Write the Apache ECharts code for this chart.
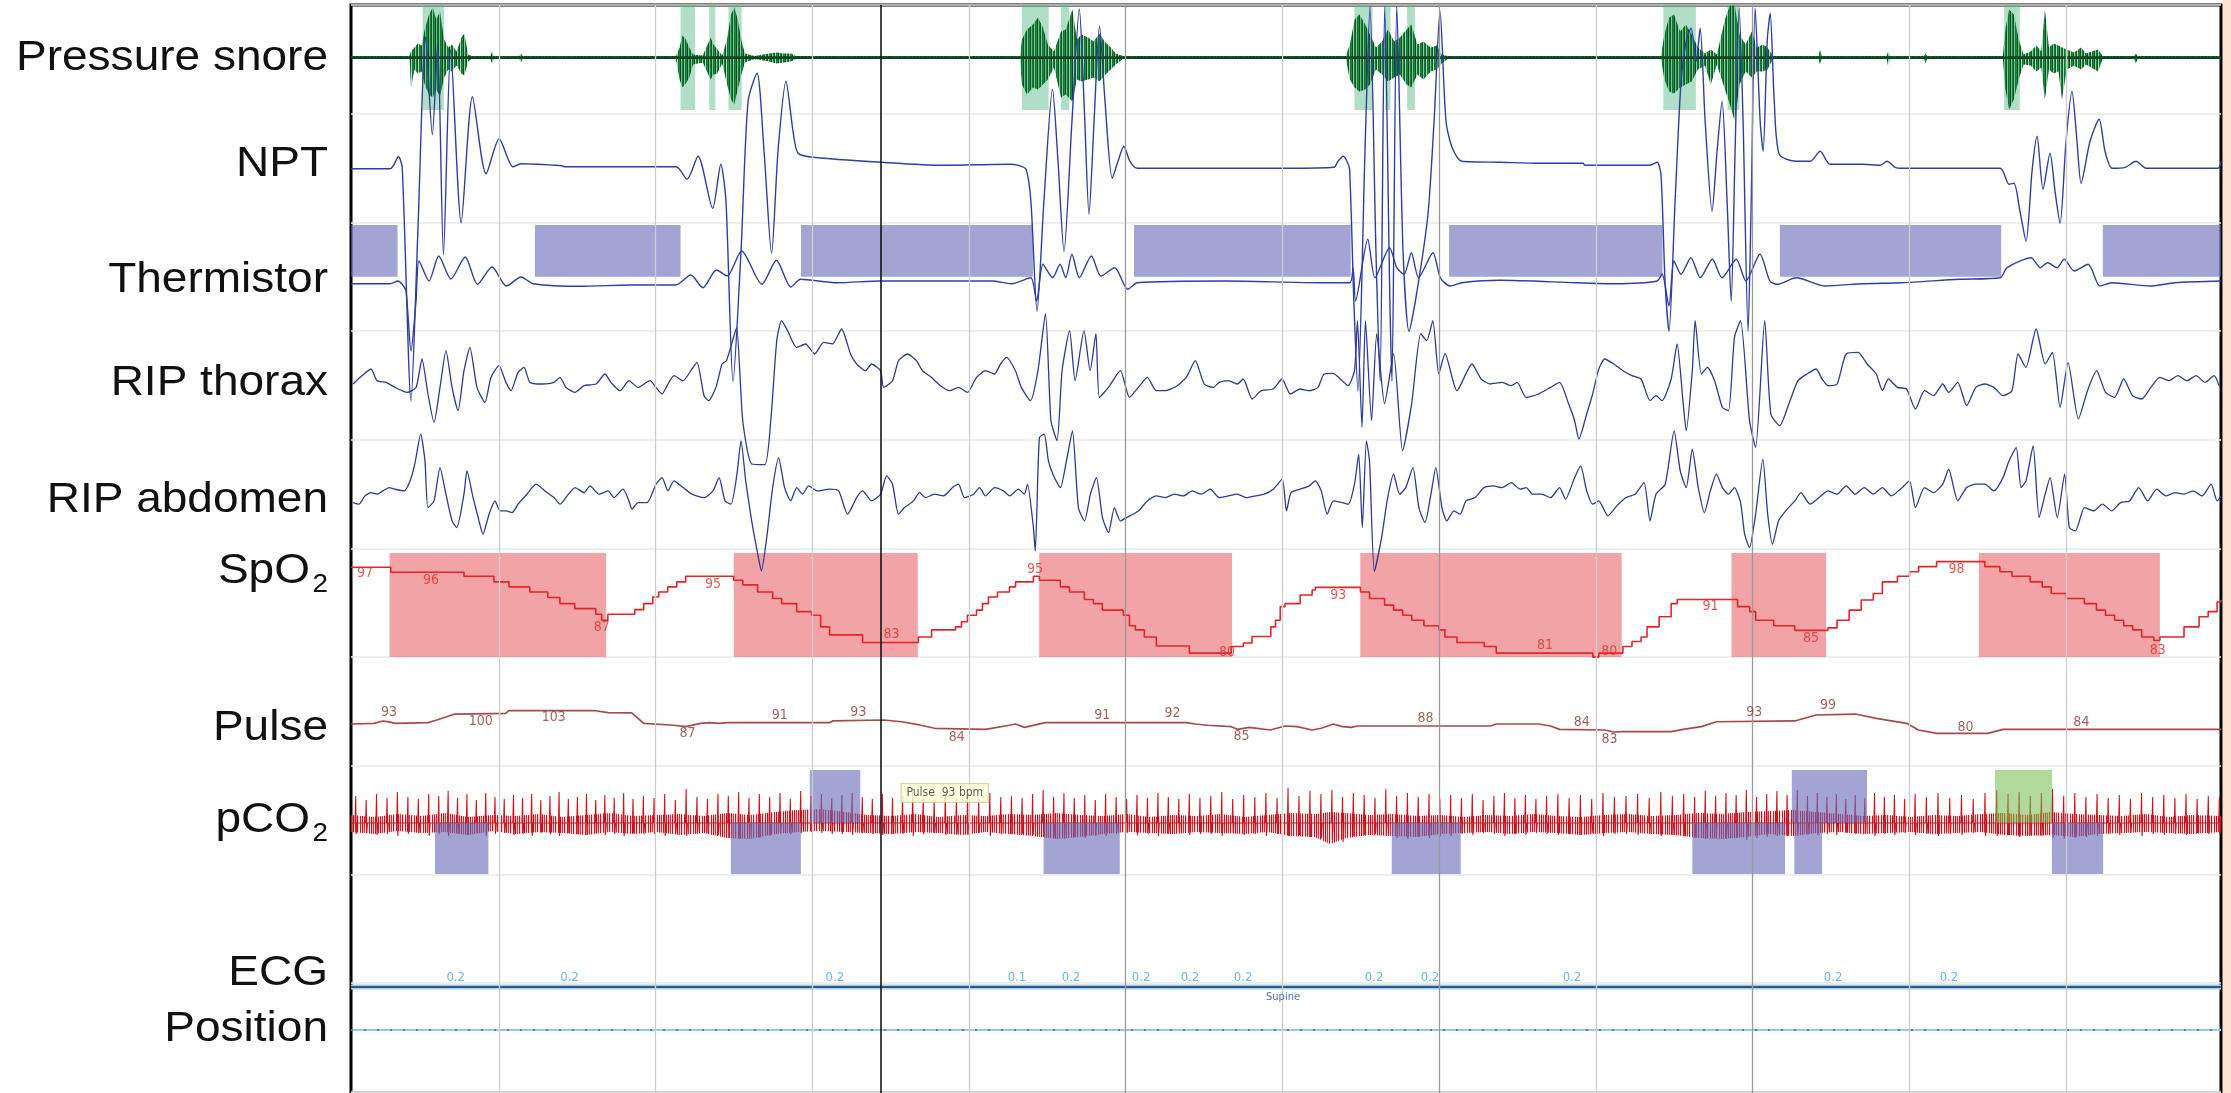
<!DOCTYPE html>
<html><head><meta charset="utf-8">
<script src="https://cdn.jsdelivr.net/npm/echarts@6/dist/echarts.min.js"></script>
<style>html,body{margin:0;padding:0;background:#fff;overflow:hidden}#c{width:2231px;height:1093px}</style>
</head><body><div id="c"></div>
<script>
// ---------------- DATA (time in seconds, amplitudes in arbitrary channel units) ----------------
const T_MAX = 119.34;
const gridTimes = [9.44, 19.44, 29.44, 39.44, 49.44, 59.44, 69.44, 79.44, 89.44, 99.44, 109.44];
const majorGridTimes = [49.44, 69.44, 89.44];
const cursorTime = 33.82;

const channelLabels = ['Pressure snore', 'NPT', 'Thermistor', 'RIP thorax', 'RIP abdomen', 'SpO', 'Pulse', 'pCO', 'ECG', 'Position'];

// snore envelope [t, upper, lower]
const snoreEnv = [[0,3.5,0.5],[3.7,3.5,0.5],[3.74,4,0],[3.83,8,-28],[4.05,12,-10],[4.26,16,-14],[4.51,14,-12],[4.7,30,-25],[4.98,45,-35],[5.22,52,-38],[5.44,40,-30],[5.68,48,-37],[5.94,20,-18],[6.21,12,-10],[6.43,15,-12],[6.74,8,-6],[7.05,22,-14],[7.23,26,-16],[7.48,5,-2],[7.7,3.5,0.5],[8.9,3.5,0.5],[9.0,8,-4],[9.1,3.5,0.5],[10.75,3.5,0.5],[10.85,6,-3],[10.95,3.5,0.5],
[20.74,3.5,0.5],[20.97,12,-20],[21.15,24,-28],[21.37,20,-24],[21.59,12,-18],[21.83,5,-5],[22.45,4,-3],[22.95,22,-20],[23.13,15,-15],[23.38,10,-14],[23.69,4,-4],[24.0,20,-25],[24.25,45,-40],[24.46,52,-45],[24.68,40,-30],[24.93,18,-14],[25.14,6,-3],[25.75,3.5,0.5],[26.68,6,-2],[27.15,7,-4],[27.6,6,-3],[28.08,6,-2],[28.38,3.5,0.5],
[42.69,3.5,0.5],[42.82,20,-25],[43.14,30,-35],[43.52,35,-28],[43.84,42,-30],[44.16,32,-25],[44.47,15,-20],[44.86,8,-8],[45.31,28,-38],[45.61,30,-35],[46.04,50,-42],[46.32,20,-20],[46.63,25,-22],[47.03,22,-20],[47.4,18,-18],[47.77,26,-22],[48.09,18,-16],[48.49,12,-10],[48.8,6,-5],[49.27,3.5,0.5],
[63.49,3.5,0.5],[63.74,15,-20],[64.05,40,-28],[64.35,45,-32],[64.73,35,-30],[65.03,25,-25],[65.41,12,-10],[65.8,18,-15],[66.18,30,-22],[66.58,18,-18],[66.94,22,-15],[67.36,30,-25],[67.66,35,-28],[68.06,15,-15],[68.44,18,-20],[68.9,12,-12],[69.3,14,-10],[69.61,5,-4],[69.98,3.5,0.5],
[83.6,3.5,0.5],[83.82,25,-20],[84.12,42,-32],[84.43,45,-34],[84.82,28,-28],[85.19,35,-25],[85.56,25,-22],[85.96,12,-10],[86.41,6,-6],[86.78,10,-25],[87.17,5,-5],[87.68,40,-30],[88.0,54,-45],[88.31,54,-62],[88.61,25,-25],[89.0,15,-12],[89.4,28,-18],[89.72,12,-12],[90.08,15,-12],[90.39,12,-10],[90.75,3.5,0.5],[93.65,3.5,0.5],[93.75,10,-5],[93.85,3.5,0.5],[98.0,3.5,0.5],[98.09,8,-6],[98.2,3.5,0.5],[100.4,3.5,0.5],[100.48,6,-4],[100.58,3.5,0.5],
[105.42,3.5,0.5],[105.58,30,-30],[105.82,50,-50],[106.12,45,-40],[106.43,20,-20],[106.74,5,-5],[107.2,8,-6],[107.56,14,-12],[107.87,8,-8],[108.1,50,-40],[108.36,12,-10],[108.66,16,-14],[108.97,14,-12],[109.19,12,-40],[109.5,10,-10],[109.96,7,-6],[110.41,12,-10],[110.72,6,-5],[111.49,10,-12],[111.79,3.5,0.5],[113.8,3.5,0.5],[113.91,6,-4],[114.0,3.5,0.5],[119.34,3.5,0.5]];

const nptTrace = [[0,0],[2.5,0],[3.03,12],[3.27,1],[3.83,-232],[4.26,-66],[4.76,132],[5.19,34],[5.53,124],[5.9,-86],[6.36,119],[7.03,-54],[7.75,72],[8.62,-5],[9.46,30],[10.33,2],[10.85,5],[13.49,3],[13.64,2],[20.75,2],
[21.44,-10.5],[22.15,12.5],[23.08,-39.5],[23.6,4.5],[23.93,-32.5],[24.38,-212.5],[24.89,-82.5],[25.34,67.5],[25.91,95.5],[26.36,17.5],[26.84,-84.5],[27.25,17.5],[27.76,87.5],[28.21,37.5],[28.53,15.5],[29.49,11.5],[33.89,6.5],[37.8,3.5],[42.0,4.5],[42.6,3.5],[43.08,-0.5],
[43.39,-32.5],[43.78,-142.5],[44.22,-32.5],[44.77,79.5],[45.12,7.5],[45.5,-82.5],[46.01,47.5],[46.48,159.5],[46.78,67.5],[47.1,-45.5],[47.42,47.5],[47.77,142.5],[48.12,67.5],[48.58,-9.5],[48.95,7.5],[49.32,22.5],[49.71,7.5],[50.19,0.5],[59.8,0.5],[62.73,1.5],[62.99,7.5],[63.33,12.5],[63.56,7.5],[63.73,-0.5],
[64.0,-132.5],[64.26,-222.5],[64.71,17.5],[65.03,162.5],[65.41,-82.5],[65.67,-212.5],[65.97,162.5],[66.3,-132.5],[66.43,-212.5],[66.74,162.5],[67.14,-82.5],[67.52,-162.5],[68.03,-122.5],[68.73,-45.5],[69.12,47.5],[69.5,157.5],[69.88,47.5],[70.29,20.5],[70.9,7.5],[73.32,6.5],[75.88,5.5],
[78.63,5.5],[78.75,3.5],[82.9,3.5],[83.35,6.5],[83.6,-5.5],[83.86,-112.5],[84.11,-162.5],[84.5,-32.5],[84.88,87.5],[85.2,127.5],[85.52,140.5],[85.84,107.5],[86.1,140.5],[86.42,47.5],[86.86,-42.5],[87.18,17.5],[87.5,67.5],[87.82,-32.5],[88.08,-132.5],[88.33,17.5],[88.59,160.5],[88.84,47.5],[89.16,-162.5],[89.36,-32.5],[89.61,160.5],[89.93,47.5],[90.12,17.5],[90.38,127.5],[90.57,155.5],[90.83,67.5],[91.15,14.5],[92.23,7.5],[93.12,7.5],[93.76,17.5],[94.39,4.5],[96.5,4.5],[97.58,3.5],[98.03,7.5],[98.54,1.5],[98.92,0.5],[105.24,0.5],[105.81,-15.5],[106.13,-14.5],[106.51,-42.5],[106.9,-72.5],[107.28,-2.5],[107.6,32.5],[107.98,-20.5],[108.43,15.5],[108.75,-22.5],[109.07,-54.5],[109.45,27.5],[109.83,77.5],[110.15,27.5],[110.41,-14.5],[110.98,27.5],[111.56,49.5],[111.94,17.5],[112.39,0.5],[113.22,1.5],[113.92,7.5],[114.56,0.5],[119.15,0.5],[119.34,7.5]];

const thermTrace = [[0,-5.7],[2.49,-5.7],[3.0,-3],[3.25,-6],[3.51,-13],[3.83,-73],[4.15,-23],[4.34,17],[4.98,-3],[5.6,22],[6.37,-1],[7.29,21],[8.07,-6.3],[9.0,11],[9.92,-8],[10.85,1],[11.62,-5.7],[14.72,-8.3],[17.81,-7],[20.74,-7],[21.68,3],[22.46,-9.7],[23.32,8],[24.0,2],[24.93,27],[26.22,-6.3],[27.15,17.7],[28.07,-9],[28.69,-1.3],[31.02,-4.7],[33.8,-3],[40.91,-3],[42.15,-5.7],[43.38,0.3],[43.75,-23],[44.16,13.7],[44.78,0.3],[45.25,13.7],[45.61,0.3],[46.01,23.7],[46.48,0.3],[47.25,22],[47.86,2],[48.74,10.3],[49.57,-11.3],[50.19,-4.7],[55.76,-3],[61.94,-4.7],[63.74,-4.7],[63.95,10.3],[64.11,-23],[64.89,38.7],[65.35,0.3],[66.28,30.3],[66.74,10.3],[67.2,3.7],[67.67,25.3],[68.13,0.3],[69.05,25.3],[69.52,0.3],[70.14,-8],[70.9,-4.7],[73.33,-2.3],[78.17,-4.7],[80.61,-5.7],[83.35,-3],[83.67,4],[84.11,-28],[84.43,17],[84.88,3.7],[85.51,20.3],[86.11,0.3],[86.88,18.7],[87.49,0.3],[88.41,18.7],[89.02,-3],[89.92,23.7],[90.55,-3],[91.01,-6.3],[92.23,0.3],[94.08,-8],[96.51,-5.7],[98.96,-4.7],[102.63,-1.3],[105.24,0.3],[105.69,10.3],[107.22,20.3],[107.8,10.3],[108.28,15.3],[108.88,10.3],[109.33,18.7],[109.97,7],[110.86,13.7],[111.62,-8],[112.39,-4.7],[114.85,-8],[116.38,-4.7],[119.34,-3]];

const thoraxTrace = [[0.13,3.2],[0.7,11.5],[1.28,18.2],[1.66,6.5],[2.23,4.8],[2.81,-0.2],[3.57,-5.2],[4.15,-0.2],[4.53,28.2],[4.91,-6.8],[5.3,-35.2],[5.68,-0.2],[6.06,36.5],[6.45,-0.2],[6.83,-23.5],[7.21,16.5],[7.59,39.8],[8.04,-0.2],[8.55,-15.2],[8.93,9.8],[9.44,21.5],[9.89,4.8],[10.21,-3.5],[10.66,14.8],[11.04,19.8],[11.42,4.8],[12.19,3.2],[12.95,4.8],[13.34,9.8],[13.72,-0.2],[14.29,-5.2],[14.87,1.5],[15.64,3.2],[16.21,13.2],[16.59,4.8],[17.17,-3.5],[17.74,6.5],[18.32,-0.2],[19.08,6.5],[19.46,-0.2],[19.85,-6.8],[20.23,3.2],[20.61,11.5],[21.19,6.5],[21.76,18.2],[22.08,24.8],[22.53,-8.5],[22.82,-13.5],[23.29,-0.2],[23.68,23.2],[23.96,26.5],[24.35,46.5],[24.61,59.8],[25.0,-33.5],[25.57,-76.8],[26.41,-77.5],[26.79,-33.5],[27.17,46.5],[27.48,66.5],[27.86,56.5],[28.44,39.8],[29.01,43.2],[29.59,33.2],[30.16,44.8],[30.73,43.2],[31.31,58.2],[31.88,33.2],[32.27,23.2],[32.84,16.5],[33.22,23.2],[33.8,16.5],[33.99,-0.2],[34.56,6.5],[34.94,26.5],[35.51,33.2],[36.09,26.5],[36.47,16.5],[37.05,9.8],[37.62,1.5],[38.19,-3.5],[38.77,-0.2],[39.34,-5.2],[39.92,9.8],[40.49,16.5],[41.07,13.2],[41.45,23.2],[41.83,29.8],[42.4,16.5],[42.78,-0.2],[43.36,-13.5],[43.84,16.5],[44.32,73.5],[44.67,-33.5],[45.06,-53.5],[45.38,16.5],[45.86,56.5],[46.21,6.5],[46.78,56.5],[47.17,16.5],[47.54,53.5],[47.76,-10.2],[48.34,-0.2],[49.1,16.5],[49.68,-10.2],[50.25,-0.2],[50.82,9.8],[51.39,-3.5],[51.97,-3.5],[52.73,1.5],[53.31,9.8],[53.88,26.5],[54.45,3.2],[55.03,-0.2],[55.41,4.8],[55.99,6.5],[56.56,3.2],[56.94,8.2],[57.51,-11.8],[58.09,-3.5],[58.85,-1.8],[59.42,8.2],[59.95,-6.8],[60.56,-1.8],[61.14,-3.5],[61.71,-0.2],[62.1,13.2],[62.67,13.8],[63.25,6.5],[63.63,1.5],[64.04,16.5],[64.23,66.5],[64.52,-40.2],[64.74,66.5],[65.13,-33.5],[65.46,53.5],[65.96,-16.5],[66.54,33.5],[67.11,-63.5],[67.69,-16.5],[68.27,53.5],[68.65,46.5],[69.04,66.5],[69.42,13.5],[69.82,33.5],[70.58,-3.5],[71.54,23.2],[72.12,8.2],[72.69,3.2],[73.47,4.8],[74.04,1.5],[74.43,4.8],[74.99,-10.2],[75.78,-6.8],[76.55,-0.2],[77.13,4.8],[77.71,-16.8],[78.09,-33.5],[78.36,-51.8],[78.86,-26.8],[79.24,-6.8],[79.63,18.2],[80.01,28.2],[80.59,23.2],[81.17,16.5],[81.75,11.5],[82.33,8.2],[82.9,-13.5],[83.28,-8.5],[83.67,-13.5],[84.25,8.2],[84.63,43.2],[85.02,-16.8],[85.21,-43.5],[85.6,16.5],[85.78,66.5],[86.18,13.2],[86.57,19.8],[87.02,6.5],[87.52,-20.2],[87.91,-23.5],[88.29,49.8],[88.68,66.5],[89.25,-33.5],[89.64,-60.2],[90.22,66.5],[90.61,-26.8],[91.18,-38.5],[91.76,-16.8],[92.34,6.5],[92.92,13.2],[93.5,18.2],[93.88,8.2],[94.26,1.5],[94.84,3.2],[95.41,33.2],[96.18,34.8],[96.76,23.2],[97.34,13.2],[97.73,-3.5],[98.11,8.2],[98.69,-0.2],[99.27,-1.8],[99.84,-21.8],[100.42,-3.5],[101.0,-8.5],[101.58,3.2],[101.96,-5.2],[102.54,4.8],[103.11,-18.5],[103.69,-0.2],[104.27,3.2],[104.85,-0.2],[105.43,-8.5],[106.0,-3.5],[106.39,33.2],[106.89,19.8],[107.54,58.2],[108.12,23.2],[108.58,34.8],[109.07,-20.2],[109.58,24.8],[110.24,-31.8],[110.82,-3.5],[111.4,16.5],[111.97,-5.2],[112.55,-10.2],[113.13,8.2],[113.7,-8.5],[114.28,-11.8],[114.86,-0.2],[115.44,9.8],[116.01,6.5],[116.59,11.5],[117.17,6.5],[117.75,11.5],[118.32,4.8],[118.9,11.5],[119.22,1.5]];

const abdomenTrace = [[0.13,-6.2],[0.51,-7.8],[0.89,0.5],[1.28,3.8],[1.66,2.2],[2.04,5.5],[2.43,8.8],[2.81,7.2],[3.38,5.5],[3.77,15.5],[4.07,32.2],[4.45,62.2],[4.72,35.5],[4.91,-11.2],[5.3,-4.5],[5.68,28.8],[6.06,2.2],[6.45,-24.5],[6.75,-31.2],[7.21,2.2],[7.4,25.5],[7.79,-1.2],[8.17,-24.5],[8.42,-37.8],[8.81,-17.8],[9.19,-4.5],[9.51,-14.5],[9.89,-14.5],[10.28,-16.2],[10.66,-7.8],[11.23,2.2],[11.81,12.2],[12.38,5.5],[12.96,-1.2],[13.34,-7.8],[13.79,0.5],[14.3,8.8],[14.87,3.8],[15.25,10.5],[15.83,2.2],[16.4,5.5],[16.78,-1.2],[17.36,7.2],[17.74,-4.5],[17.93,-12.8],[18.32,-6.2],[18.89,-6.2],[19.47,12.2],[19.85,18.8],[20.23,5.5],[20.61,15.5],[21.19,8.8],[21.76,2.2],[22.53,-1.2],[23.1,5.5],[23.49,18.8],[23.87,-4.5],[24.25,-7.8],[24.63,22.2],[24.89,55.5],[25.19,15.5],[25.57,-24.5],[25.96,-57.8],[26.19,-74.5],[26.53,-41.2],[26.91,8.8],[27.29,38.8],[27.67,8.8],[28.06,-4.5],[28.44,8.8],[28.82,2.2],[29.2,10.5],[29.78,5.5],[30.54,7.2],[31.12,5.5],[31.69,-17.8],[32.27,-1.2],[32.65,5.5],[33.22,-4.5],[33.8,2.2],[34.18,20.5],[34.56,12.2],[34.94,-17.8],[35.32,-11.2],[35.9,-4.5],[36.28,3.8],[36.66,-1.2],[37.24,2.2],[37.81,0.5],[38.39,8.8],[38.77,12.2],[39.15,-1.2],[39.73,2.2],[40.11,8.8],[40.49,0.5],[41.07,8.8],[41.64,5.5],[42.03,0.5],[42.59,7.2],[42.98,2.2],[43.17,12.2],[43.55,-31.2],[43.67,-54.5],[43.93,58.8],[44.24,62.2],[44.51,35.5],[44.89,18.8],[45.27,8.8],[45.66,35.5],[46.04,65.5],[46.42,-11.2],[46.81,-24.5],[47.19,2.2],[47.57,18.8],[47.96,-21.2],[48.34,-36.2],[48.72,-11.2],[49.1,-24.5],[49.49,-21.2],[50.25,-14.5],[50.82,-4.5],[51.39,0.5],[51.97,-1.2],[52.54,2.2],[53.12,0.5],[53.69,5.5],[54.27,2.2],[54.84,7.2],[55.41,-1.2],[55.99,0.5],[56.56,2.2],[57.13,-1.2],[57.71,0.5],[58.28,2.2],[58.86,7.2],[59.43,17.2],[59.7,-14.5],[59.99,3.8],[60.57,7.2],[61.15,10.5],[61.54,15.5],[61.92,5.5],[62.3,-17.8],[62.69,-4.5],[63.27,-6.2],[63.65,-7.8],[64.04,12.2],[64.31,42.2],[64.54,-31.2],[64.8,55.5],[65.0,35.5],[65.31,-75],[65.77,-41.2],[66.16,-1.2],[66.54,22.2],[66.92,2.2],[67.31,8.8],[67.77,28.8],[68.15,-11.2],[68.54,-26.2],[68.92,2.2],[69.23,28.8],[69.62,-11.2],[69.93,-24.5],[70.39,-14.5],[70.78,-17.8],[71.16,-4.5],[71.73,-1.2],[72.31,8.8],[72.89,10.5],[73.47,8.8],[74.04,13.8],[74.62,7.2],[75.01,8.8],[75.4,2.2],[75.97,2.2],[76.55,-1.2],[77.13,8.8],[77.51,-2.8],[78.09,18.8],[78.47,30.5],[78.86,5.5],[79.24,-7.8],[79.63,-4.5],[80.21,-19.5],[80.78,-9.5],[81.36,-1.2],[81.94,2.2],[82.52,13.8],[82.9,-24.5],[83.28,2.2],[83.87,12.2],[84.44,65.5],[84.83,25.5],[85.21,8.8],[85.6,47.2],[85.98,8.8],[86.37,-16.2],[86.75,5.5],[87.14,22.2],[87.52,8.8],[87.91,2.2],[88.29,8.8],[88.68,-6.2],[88.94,-37.8],[89.25,-51.2],[89.64,-17.8],[90.1,37.2],[90.41,-17.8],[90.72,-47.8],[91.1,-24.5],[91.56,-14.5],[92.14,-4.5],[92.53,3.8],[93.11,-7.8],[93.68,-1.2],[94.26,5.5],[94.84,2.2],[95.42,10.5],[95.99,2.2],[96.57,8.8],[97.15,2.2],[97.73,8.8],[98.3,0.5],[98.88,7.2],[99.46,15.5],[99.84,-11.2],[100.42,8.8],[101.0,3.8],[101.58,12.2],[101.96,27.2],[102.54,-4.5],[103.11,8.8],[103.69,12.2],[104.27,12.2],[104.85,5.5],[105.43,18.8],[105.81,35.5],[106.27,48.8],[106.58,8.8],[106.89,15.5],[107.35,50.5],[107.73,-21.2],[108.12,2.2],[108.43,18.8],[108.89,-21.2],[109.36,22.2],[109.66,-31.2],[110.05,-34.5],[110.63,-11.2],[111.2,-14.5],[111.78,-7.8],[112.36,-14.5],[112.93,-6.2],[113.51,-4.5],[114.09,8.8],[114.66,-4.5],[115.24,7.2],[115.82,0.5],[116.4,3.8],[116.97,2.2],[117.56,5.5],[118.13,0.5],[118.71,12.2],[119.09,-4.5],[119.34,0]];

// SpO2 (%) — value holds from t until next point
const spo2Trace = [[0,97],[2.54,96],[7.21,95.2],[9.12,94.1],[10.08,93.1],[11.41,92.1],[12.56,91],[13.33,89.8],[14.28,88.8],[15.62,87.7],[16.0,86.5],[16.39,87.7],[18.11,88.6],[18.68,89.8],[19.26,91.1],[19.64,92.1],[20.21,93.1],[20.79,94.1],[21.36,95.2],[24.42,94.4],[25.0,93.5],[25.95,92.1],[26.91,90.8],[27.48,89.8],[28.44,88.2],[29.4,87.5],[29.97,85.2],[30.54,83.6],[32.65,82.1],[36.21,83.2],[37.05,84.6],[38.58,85.2],[38.96,86.2],[39.34,87.5],[39.92,88.5],[40.3,89.8],[40.68,91.1],[41.26,92.1],[42.02,93.1],[42.41,94.1],[43.55,95.2],[43.93,94.4],[45.27,93.1],[45.85,92.1],[46.8,90.6],[47.38,89.8],[47.95,88.5],[49.29,87.5],[49.68,85.4],[50.06,84.6],[50.63,83.2],[51.4,81.4],[53.5,80.0],[56.18,81.3],[56.95,82.0],[57.5,83.3],[58.7,85.2],[59.0,86.5],[59.3,89.2],[59.61,89.8],[60.57,91.5],[61.34,92.5],[61.54,93.0],[64.42,92.1],[65.0,90.8],[65.96,89.5],[66.54,88.5],[67.12,87.5],[67.7,86.5],[68.47,85.4],[69.43,84.6],[69.81,83.2],[70.58,82.1],[72.32,81.3],[73.09,80.0],[79.25,79.2],[79.63,80.0],[81.17,81.3],[81.75,82.3],[82.33,83.2],[82.71,85.2],[83.48,87.2],[84.25,89.8],[84.64,90.6],[88.49,89.2],[89.26,88.2],[89.64,86.5],[90.8,85.4],[92.14,84.5],[94.26,85],[94.84,86.5],[95.61,88.5],[96.38,90.5],[97.15,91.8],[97.73,94.1],[98.69,95.2],[99.46,96.1],[100.04,97.1],[101.19,98.1],[104.27,97.1],[105.23,96.1],[106.0,95.2],[107.16,94.1],[107.93,93.1],[108.51,91.8],[109.47,90.8],[110.62,89.8],[111.39,88.5],[111.97,87.5],[112.55,86.5],[113.13,85.4],[113.7,84.6],[114.28,83.2],[115.05,82.5],[115.44,83.2],[116.98,85.2],[117.94,87.2],[118.52,88.2],[119.09,90.1],[119.34,90.5]];
const spo2Labels = [[0.9,95.8,'97'],[5.1,94.4,'96'],[16.0,85.1,'87'],[23.1,93.6,'95'],[34.5,83.8,'83'],[43.65,96.6,'95'],[55.9,80.1,'80'],[63.0,91.5,'93'],[76.2,81.6,'81'],[80.3,80.4,'80'],[86.76,89.3,'91'],[93.18,82.9,'85'],[102.46,96.6,'98'],[115.3,80.6,'83']];

// Pulse (bpm)
const pulseTrace = [[0,89.3],[1.47,90],[2.04,92.5],[2.42,91.5],[2.81,90],[4.91,90.7],[5.48,93.5],[6.63,99.8],[9.88,100.5],[10.07,103.3],[15.62,103.3],[16.39,101.2],[17.92,101],[18.68,90],[20.6,88],[21.36,86.5],[22.32,90],[22.89,90.7],[23.46,90],[24.04,90.7],[30.54,90.7],[30.74,92.5],[33.99,93.5],[35.13,91.7],[36.28,88.3],[37.24,84.8],[40.49,83.7],[42.02,88],[42.41,89.3],[42.98,85.8],[44.32,90.7],[53.31,90.7],[53.88,89.3],[54.65,88],[56.18,86.5],[56.56,83.7],[57.33,85.8],[58.66,83],[59.62,87.2],[60.38,86.5],[61.34,83],[61.92,84.8],[62.69,89.3],[63.27,86.5],[63.85,85.8],[64.23,87.2],[72.7,87.2],[73.09,89.3],[75.78,89.3],[76.55,87.2],[77.13,83.7],[80.02,83],[80.59,80.9],[81.17,81.2],[84.25,81.2],[85.02,83.7],[86.18,86.5],[87.14,91.7],[92.14,92.5],[93.49,98.8],[95.99,99.8],[97.34,95.3],[99.27,90],[100.04,83],[101.19,79.5],[104.46,79.5],[105.43,83.7],[119.34,83.7]];
const pulseLabels = [[2.42,101.2,'93'],[8.28,92.5,'100'],[12.94,96,'103'],[21.48,79.5,'87'],[27.37,98.8,'91'],[32.38,101.6,'93'],[38.66,75.3,'84'],[47.95,98.8,'91'],[52.43,100.5,'92'],[56.83,76.7,'85'],[68.58,95.3,'88'],[78.55,91.1,'84'],[80.32,73.5,'83'],[89.56,101.6,'93'],[94.26,108.6,'99'],[103.04,85.8,'80'],[110.43,91.1,'84']];

// pCO2 channel trace: beats [t, peak, trough] and background noise envelope [t, upper, lower]
const pco2Beats = [[0.3,28,-10],[0.97,24,-9],[1.63,30,-11],[2.3,26,-10],[2.96,32,-12],[3.63,27,-10],[4.3,25,-9],[4.96,30,-12],[5.6,28,-10],
[6.2,33,-12],[6.8,26,-10],[7.4,30,-11],[8.0,24,-9],[8.6,31,-12],[9.19,27,-10],[9.78,25,-9],[10.37,29,-11],[10.95,26,-10],[11.53,30,-12],[12.11,24,-9],[12.7,28,-10],[13.28,32,-12],[13.87,25,-9],[14.45,27,-10],[15.03,30,-11],[15.62,24,-9],[16.2,29,-11],[16.8,26,-10],[17.4,31,-12],[18.0,25,-9],
[18.66,28,-10],[19.34,26,-10],[20.02,30,-12],[20.7,24,-9],[21.39,35,-12],[22.08,27,-10],[22.75,25,-9],[23.42,30,-11],[24.08,28,-14],[24.74,32,-15],[25.4,26,-13],[26.06,30,-14],[26.72,27,-12],[27.38,31,-10],[28.04,25,-10],[28.7,33,-9],[29.36,28,-8],[30.02,30,-9],[30.68,26,-10],
[31.33,29,-10],[31.98,31,-11],[32.63,27,-9],[33.27,25,-10],[33.91,30,-11],[34.56,26,-10],[35.2,28,-10],[35.85,31,-12],
[36.52,27,-10],[37.22,24,-9],[37.93,30,-11],[38.64,26,-10],[39.35,29,-11],[40.06,25,-9],[40.77,31,-12],[41.47,27,-10],[42.15,28,-10],
[42.83,26,-10],[43.5,30,-11],[44.17,34,-13],[44.84,27,-14],[45.5,31,-15],[46.16,26,-13],[46.83,29,-14],[47.5,24,-12],[48.16,30,-12],[48.83,27,-10],[49.5,25,-9],[50.16,29,-11],[50.83,26,-10],[51.5,31,-12],[52.16,27,-10],[52.83,25,-9],
[53.5,30,-11],[54.18,26,-10],[54.87,28,-10],[55.57,32,-12],[56.27,25,-9],[56.97,29,-11],[57.68,27,-10],[58.39,31,-12],[59.1,26,-10],
[59.8,36,-12],[60.5,28,-11],[61.2,33,-13],[61.9,30,-14],[62.6,34,-16],[63.28,27,-18],[63.97,31,-12],
[64.66,29,-11],[65.35,26,-10],[66.04,35,-12],[66.73,28,-14],[67.42,31,-15],[68.11,27,-13],[68.8,30,-14],[69.49,25,-12],[70.18,29,-12],[70.87,26,-10],[71.56,30,-11],[72.25,24,-9],[72.94,28,-10],
[73.61,31,-12],[74.28,26,-10],[74.95,29,-11],[75.62,25,-9],[76.3,28,-10],
[77.02,30,-11],[77.74,26,-10],[78.46,29,-11],[79.18,25,-9],[79.9,31,-12],[80.63,27,-10],[81.37,28,-10],[82.11,30,-11],[82.85,26,-10],[83.59,32,-12],[84.33,28,-11],
[85.05,30,-12],[85.75,27,-14],[86.43,33,-15],[87.09,28,-14],[87.75,31,-15],[88.4,29,-14],[89.05,34,-16],[89.7,27,-14],[90.35,30,-13],[91.0,33,-12],[91.65,29,-12],[92.3,34,-12],[92.95,28,-11],
[93.58,31,-11],[94.19,27,-10],[94.79,30,-11],[95.39,25,-9],[96.0,29,-10],[96.61,26,-10],[97.23,31,-12],[97.86,27,-10],[98.5,29,-11],[99.15,25,-9],
[99.82,30,-11],[100.54,27,-10],[101.28,31,-12],[102.03,26,-10],[102.78,29,-11],[103.53,25,-9],[104.28,31,-12],[105.03,34,-12],
[105.75,30,-11],[106.46,32,-13],[107.17,28,-11],[107.88,31,-12],[108.59,35,-14],[109.3,28,-15],[110.01,31,-14],[110.72,27,-13],[111.43,30,-12],[112.14,26,-10],[112.85,29,-11],[113.56,25,-9],[114.27,31,-12],[114.98,27,-10],[115.69,29,-11],[116.4,26,-10],[117.11,30,-11],[117.82,25,-9],[118.53,28,-10],[119.24,27,-10]];
const pco2Noise = [[0,9,-8],[1.5,7,-10],[3,10,-7],[4.5,8,-9],[6,11,-8],[7.5,7,-11],[9,9,-7],[10.5,8,-10],[12,10,-8],[13.5,7,-9],[15,9,-11],[16.5,11,-8],[18,8,-10],[19.5,9,-8],[21,10,-11],[22.5,8,-9],[24,11,-14],[25.5,9,-15],[27,12,-10],[28.5,14,-8],[30,15,-7],[31.5,12,-8],[33,9,-9],[34.5,8,-10],[36,10,-8],[37.5,7,-9],[39,9,-11],[40.5,8,-8],[42,10,-10],[43.5,9,-12],[45,11,-15],[46.5,9,-13],[48,8,-10],[49.5,10,-8],[51,7,-9],[52.5,9,-10],[54,8,-8],[55.5,10,-9],[57,7,-10],[58.5,9,-8],[60,11,-12],[61.5,10,-13],[62.5,12,-20],[63.5,11,-14],[65,9,-11],[66.5,10,-12],[68,8,-13],[69.5,9,-10],[71,7,-9],[72.5,9,-8],[74,8,-10],[75.5,10,-8],[77,8,-9],[78.5,7,-11],[80,9,-9],[81.5,10,-8],[83,8,-10],[84.5,9,-11],[86,11,-14],[87.5,10,-15],[89,12,-13],[90.5,13,-10],[92,14,-12],[93.5,12,-9],[95,10,-8],[96.5,8,-10],[98,9,-9],[99.5,7,-8],[101,9,-10],[102.5,8,-9],[104,10,-8],[105.5,11,-11],[107,9,-12],[108.5,12,-11],[110,10,-13],[111.5,9,-10],[113,8,-9],[114.5,10,-8],[116,7,-9],[117.5,9,-10],[119.34,8,-8]];
const pco2Note = [[35.13, 31, 'Pulse  93 bpm']];

// ECG / Position
const ecgTrace = [[0,0],[119.34,0]];
const ecgMarks = [[6.68,'0.2'],[13.95,'0.2'],[30.88,'0.2'],[42.5,'0.1'],[45.95,'0.2'],[50.42,'0.2'],[53.54,'0.2'],[56.93,'0.2'],[65.29,'0.2'],[68.86,'0.2'],[77.92,'0.2'],[94.58,'0.2'],[101.98,'0.2']];
const positionTrace = [[0,0],[119.34,0]];
const positionMarks = [[59.48,'Supine']];

// scored events [start, end] in seconds
const snoreEvents = [[4.57,5.93],[21.03,21.96],[22.86,23.25],[24.09,24.93],[42.82,44.52],[45.31,45.83],[64.04,65.19],[66.0,66.34],[67.4,67.9],[83.75,85.83],[87.84,88.61],[105.5,106.5]];
const flowEvents = [[0,2.97],[11.74,21.03],[28.72,43.52],[49.97,63.8],[70.08,83.7],[91.19,105.31],[111.8,119.34]];
const desatEvents = [[2.46,16.28],[24.43,36.17],[43.92,56.23],[64.41,81.09],[88.1,94.14],[103.89,115.44]];
const pco2LowEvents = [[5.36,8.77],[24.24,28.71],[44.2,49.06],[66.42,70.82],[85.6,91.52],[92.11,93.88],[108.55,111.82]];
const pco2HighEvents = [[29.28,32.5],[91.95,96.75]];
const pco2GreenEvents = [[104.92,108.55]];

// ---------------- LAYOUT / RENDER ----------------
const ROW_H = 109.2, TOP = 5, LEFT = 351, RIGHT = 10;
const chart = echarts.init(document.getElementById('c'), null, {renderer: 'canvas', width: 2231, height: 1093});
const NARROW = "'Liberation Sans Narrow','DejaVu Sans Condensed','Liberation Sans',sans-serif";
const MAIN_FONT = "'Liberation Sans', Arial, Helvetica, sans-serif";
const BLUE = '#2f3f9f';

// hatch textures that mimic a high-frequency oscillating signal inside an envelope
function hatch(colors, w, h) {
  const c = document.createElement('canvas'); c.width = w; c.height = h;
  const ctx = c.getContext('2d');
  for (let x = 0; x < w; x++) { ctx.fillStyle = colors[x % colors.length]; ctx.fillRect(x, 0, 1, h); }
  return c;
}
const snoreTexture = {image: hatch(['#178a3c', '#0b4d20', 'rgba(40,165,80,0.55)', '#1f7a3a', '#0e5a26', 'rgba(60,175,95,0.45)', '#14733a'], 7, 8), repeat: 'repeat'};
const pco2Texture = {image: hatch(['#d2141e', 'rgba(225,60,70,0.18)', '#b80f1a', 'rgba(225,60,70,0.3)', '#de2a32', 'rgba(225,60,70,0.12)', '#c41420', 'rgba(225,60,70,0.25)', 'rgba(225,60,70,0.1)'], 9, 8), repeat: 'repeat'};

const grids = [{left: LEFT, right: RIGHT, top: TOP, height: 1093, show: true, borderColor: '#000', borderWidth: 3, backgroundColor: 'transparent', z: 0}];
for (let k = 0; k < 8; k++) grids.push({left: LEFT, right: RIGHT, top: TOP + ROW_H * k, height: ROW_H});
grids.push({left: LEFT, right: RIGHT, top: 940, height: 94});   // ECG
grids.push({left: LEFT, right: RIGHT, top: 1000, height: 60});  // Position

const yRanges = [null, [-54.6,54.6], [-54.6,54.6], [-54.6,54.6], [-54.6,54.6], [-54.6,54.6], [78.6,100.2], [41.5,156.5], [-54.6,54.6], [-1,1], [-1,1]];
const xAxes = grids.map((g, i) => ({type: 'value', gridIndex: i, min: 0, max: T_MAX, show: false}));
const yAxes = grids.map((g, i) => i === 0 ? {
  type: 'value', gridIndex: 0, min: 0, max: 10.01, interval: 1, inverse: true,
  axisLine: {show: false}, axisTick: {show: false}, axisLabel: {show: false},
  splitLine: {show: true, lineStyle: {color: '#e8e8e8', width: 1.5}}
} : {type: 'value', gridIndex: i, min: yRanges[i][0], max: yRanges[i][1], show: false});

function rectSeries(g, events, v0, v1, color, z) {
  return {type: 'custom', xAxisIndex: g, yAxisIndex: g, z, silent: true, data: events,
    renderItem(params, api) {
      const a = api.coord([api.value(0), v1]);
      const b = api.coord([api.value(1), v0]);
      return {type: 'rect', shape: {x: a[0], y: a[1], width: b[0] - a[0], height: b[1] - a[1]}, style: {fill: color}};
    }};
}
function bandSeries(g, env, fill, stroke, z) {
  return {type: 'custom', xAxisIndex: g, yAxisIndex: g, z, silent: true, data: [[0, 0]],
    renderItem(params, api) {
      const up = env.map(p => api.coord([p[0], p[1]]));
      const lo = env.slice().reverse().map(p => api.coord([p[0], p[2]]));
      return {type: 'polygon', shape: {points: up.concat(lo)}, style: {fill, stroke, lineWidth: stroke ? 0.8 : 0}};
    }};
}
function traceSeries(g, data, color, width, z, extra) {
  return Object.assign({type: 'line', xAxisIndex: g, yAxisIndex: g, data, symbol: 'none', showSymbol: false, clip: false, z,
    lineStyle: {color, width}, silent: true}, extra || {});
}
function labelSeries(g, items, color, size, extra) {
  return {type: 'scatter', xAxisIndex: g, yAxisIndex: g, z: 6, silent: true, symbolSize: 0,
    data: items.map(p => ({value: [p[0], p[1]], name: p[2]})),
    label: Object.assign({show: true, position: 'inside', formatter: '{b}', color, fontSize: size, fontFamily: NARROW}, extra || {})};
}

// pCO2 trace built from beat list
const PCO2_BASE = 1;
const pco2Line = [[0, PCO2_BASE]];
pco2Beats.forEach(b => { pco2Line.push([b[0] - 0.04, PCO2_BASE], [b[0], b[1]], [b[0] + 0.03, b[2]], [b[0] + 0.08, PCO2_BASE]); });
pco2Line.push([T_MAX, PCO2_BASE]);

const SNORE_BASE = 2;
const snoreBaseline = [[0, SNORE_BASE], [T_MAX, SNORE_BASE]];

const series = [
  // frame grid lines
  {type: 'line', xAxisIndex: 0, yAxisIndex: 0, data: [[0, 0]], symbol: 'none', lineStyle: {opacity: 0}, z: 0, silent: true,
   markLine: {silent: true, symbol: 'none', label: {show: false}, animation: false,
     data: gridTimes.map(t => ({xAxis: t, lineStyle: {color: majorGridTimes.includes(t) ? '#9a9a9a' : '#cdcdcd', width: 1.3, type: 'solid'}}))}},
  // events
  rectSeries(1, snoreEvents, -50.4, 54.6, 'rgba(90,185,135,0.48)', 1),
  rectSeries(3, flowEvents, 1.3, 53, 'rgba(105,108,185,0.62)', 1),
  rectSeries(6, desatEvents, 79.23, 99.78, 'rgba(228,72,78,0.5)', 1),
  // snore
  bandSeries(1, snoreEnv, snoreTexture, null, 2),
  traceSeries(1, snoreBaseline, '#0d4420', 2.6, 3),
  // respiratory
  traceSeries(2, nptTrace, BLUE, 1.4, 3, {smooth: 0.25}),
  traceSeries(3, thermTrace, BLUE, 1.4, 3, {smooth: 0.25}),
  traceSeries(4, thoraxTrace, '#2c3a94', 1.3, 3, {smooth: 0.2}),
  traceSeries(5, abdomenTrace, '#2c3a94', 1.3, 3, {smooth: 0.2}),
  // SpO2
  traceSeries(6, spo2Trace, '#e0262b', 1.6, 4, {step: 'end'}),
  labelSeries(6, spo2Labels, '#e03030', 14),
  // Pulse
  traceSeries(7, pulseTrace, '#a54a4c', 1.7, 4),
  labelSeries(7, pulseLabels, '#8a3a30', 14),
  // pCO2
  bandSeries(8, pco2Noise, pco2Texture, null, 2),
  traceSeries(8, pco2Line, '#d0141e', 1.1, 3),
  rectSeries(8, pco2LowEvents, -50, 1.3, 'rgba(105,108,185,0.62)', 4),
  rectSeries(8, pco2HighEvents, 1.3, 54, 'rgba(105,108,185,0.62)', 4),
  rectSeries(8, pco2GreenEvents, 1.3, 54, 'rgba(120,190,80,0.58)', 4),
  labelSeries(8, pco2Note, '#333', 12, {position: 'right', distance: 0, backgroundColor: '#ffffd4', borderColor: '#c9c79a', borderWidth: 1, padding: [3, 5]}),
  // ECG
  traceSeries(9, ecgTrace, '#a9cce6', 5, 3),
  traceSeries(9, ecgTrace, '#2b5a8a', 2, 4),
  labelSeries(9, ecgMarks.map(m => [m[0], 0.21, m[1]]), '#4aa3df', 13),
  labelSeries(9, positionMarks.map(m => [m[0], -0.21, m[1]]), '#1f4e8c', 11),
  // Position
  traceSeries(10, positionTrace, '#90cce6', 2, 3),
  traceSeries(10, positionTrace, '#2f6ea8', 1.6, 4, {lineStyle: {color: '#2f6ea8', width: 1.6, type: [2, 11]}}),
  // cursor
  {type: 'line', xAxisIndex: 0, yAxisIndex: 0, data: [[0, 0]], symbol: 'none', lineStyle: {opacity: 0}, z: 10, silent: true,
   markLine: {silent: true, symbol: 'none', label: {show: false}, animation: false,
     data: [{xAxis: cursorTime, lineStyle: {color: '#151515', width: 1.6, type: 'solid'}}]}}
];

// left channel titles
const labelY = [58, 164, 280, 383, 500, 571, 728, 820, 973, 1029];
const graphic = [{type: 'rect', shape: {x: 2223, y: 0, width: 8, height: 1093}, style: {fill: '#fbe3cf'}, z: -1}];
channelLabels.forEach((txt, i) => {
  const hasSub = (i === 5 || i === 7);
  graphic.push({type: 'text', x: hasSub ? 310 : 328, y: labelY[i], scaleX: 1.07, z: 20,
    style: {text: txt, fill: '#111', font: '43px ' + MAIN_FONT, textAlign: 'right', align: 'right', textVerticalAlign: 'middle', verticalAlign: 'middle'}});
  if (hasSub) graphic.push({type: 'text', x: 328, y: labelY[i] + 14, scaleX: 1.07, z: 20,
    style: {text: '2', fill: '#111', font: '26px ' + MAIN_FONT, textAlign: 'right', align: 'right', textVerticalAlign: 'middle', verticalAlign: 'middle'}});
});

chart.setOption({
  animation: false,
  backgroundColor: '#ffffff',
  grid: grids, xAxis: xAxes, yAxis: yAxes, series, graphic
});
</script></body></html>
